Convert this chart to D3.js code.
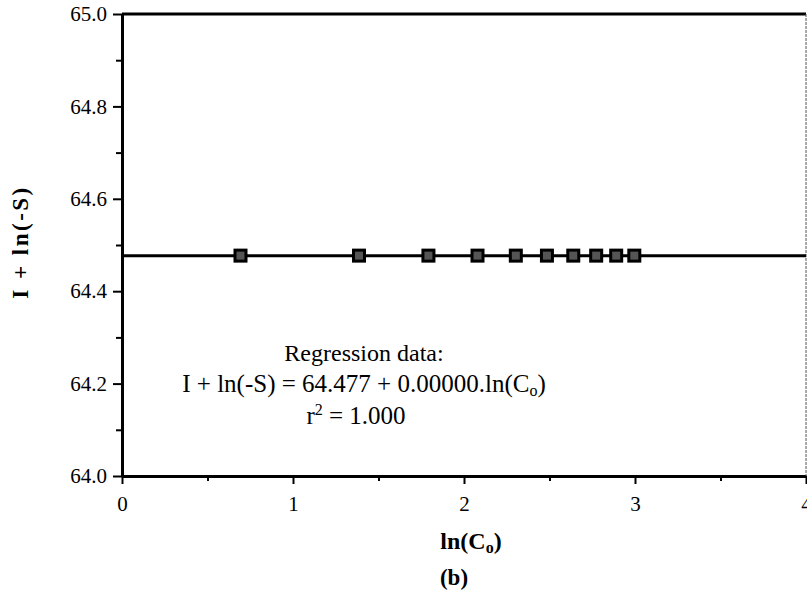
<!DOCTYPE html>
<html>
<head>
<meta charset="utf-8">
<script src="https://cdn.jsdelivr.net/npm/d3@7"></script>
<style>
  body { margin: 0; background: #fff; }
</style>
</head>
<body>
<svg id="chart" width="807" height="592" font-family="'Liberation Serif', 'Times New Roman', serif"></svg>
<script>
// data
const xValues = [0.693, 1.386, 1.792, 2.079, 2.303, 2.485, 2.639, 2.773, 2.890, 2.996];
const yValues = [64.477, 64.477, 64.477, 64.477, 64.477, 64.477, 64.477, 64.477, 64.477, 64.477];
const fitIntercept = 64.477;
const fitSlope = 0.0;
const xTicks = [0, 1, 2, 3, 4];
const yTicks = [64.0, 64.2, 64.4, 64.6, 64.8, 65.0];

const svg = d3.select("#chart");
const margin = { top: 14, right: 1, bottom: 116, left: 122 };
const width = 807 - margin.left - margin.right;
const height = 592 - margin.top - margin.bottom;
const serif = "'Liberation Serif', 'Times New Roman', serif";

const g = svg.append("g")
  .attr("transform", "translate(" + margin.left + "," + margin.top + ")");

const x = d3.scaleLinear().domain([0, 4]).range([0, width]);
const y = d3.scaleLinear().domain([64.0, 65.0]).range([height, 0]);

// minor ticks
g.append("g")
  .attr("transform", "translate(0," + height + ")")
  .call(d3.axisBottom(x).tickValues(d3.range(0.5, 4, 1)).tickSize(5).tickFormat(""))
  .call(a => a.select(".domain").remove())
  .selectAll("line").attr("stroke-width", 2);
g.append("g")
  .call(d3.axisLeft(y).tickValues(d3.range(64.1, 65, 0.2)).tickSize(6).tickFormat(""))
  .call(a => a.select(".domain").remove())
  .selectAll("line").attr("stroke-width", 2);

// x axis
const xAxis = g.append("g")
  .attr("transform", "translate(0," + height + ")")
  .call(d3.axisBottom(x).tickValues(xTicks).tickSize(8).tickSizeOuter(0).tickPadding(12).tickFormat(d3.format("d")))
  .attr("font-family", serif).attr("font-size", 21);
xAxis.select(".domain").attr("stroke-width", 3);
xAxis.selectAll("line").attr("stroke-width", 2);

// y axis
const yAxis = g.append("g")
  .call(d3.axisLeft(y).tickValues(yTicks).tickSize(9).tickSizeOuter(0).tickPadding(6).tickFormat(d3.format(".1f")))
  .attr("font-family", serif).attr("font-size", 21);
yAxis.select(".domain").attr("stroke-width", 3);
yAxis.selectAll("line").attr("stroke-width", 2);

// top and right frame
g.append("line")
  .attr("x1", 0).attr("x2", width).attr("y1", 0).attr("y2", 0)
  .attr("stroke", "#000").attr("stroke-width", 3);
g.append("line")
  .attr("x1", width).attr("x2", width).attr("y1", 0).attr("y2", height)
  .attr("stroke", "#555").attr("stroke-width", 1).attr("stroke-dasharray", "3,1");

// regression line
g.append("line")
  .attr("x1", x(0)).attr("x2", x(4))
  .attr("y1", y(fitIntercept + fitSlope * 0)).attr("y2", y(fitIntercept + fitSlope * 4))
  .attr("stroke", "#000").attr("stroke-width", 3);

// points
const pts = xValues.map((v, i) => ({ x: v, y: yValues[i] }));
g.selectAll("rect.pt")
  .data(pts).enter()
  .append("rect")
    .attr("class", "pt")
    .attr("x", d => x(d.x) - 5.5)
    .attr("y", d => y(d.y) - 5.5)
    .attr("width", 11)
    .attr("height", 11)
    .attr("fill", "#555")
    .attr("stroke", "#000")
    .attr("stroke-width", 3);

// regression annotation
const cx = 242;
g.append("text")
  .attr("x", cx).attr("y", 347)
  .attr("text-anchor", "middle")
  .attr("font-size", 24)
  .text("Regression data:");
const eq = g.append("text")
  .attr("x", cx).attr("y", 378)
  .attr("text-anchor", "middle")
  .attr("font-size", 25);
eq.append("tspan").text("I + ln(-S) = " + fitIntercept.toFixed(3) + " + " + fitSlope.toFixed(5) + ".ln(C");
eq.append("tspan").attr("dy", 4).attr("font-size", 16).text("o");
eq.append("tspan").attr("dy", -4).text(")");
const r2 = g.append("text")
  .attr("x", 234).attr("y", 410)
  .attr("text-anchor", "middle")
  .attr("font-size", 25);
r2.append("tspan").text("r");
r2.append("tspan").attr("dy", -9).attr("font-size", 16).text("2");
r2.append("tspan").attr("dy", 9).text(" = 1.000");

// axis titles
const xt = svg.append("text")
  .attr("x", 471)
  .attr("y", 549)
  .attr("text-anchor", "middle")
  .attr("font-size", 24).attr("font-weight", "bold");
xt.append("tspan").text("ln(C");
xt.append("tspan").attr("dy", 4).attr("font-size", 16).text("o");
xt.append("tspan").attr("dy", -4).text(")");

svg.append("text")
  .attr("x", 454)
  .attr("y", 585)
  .attr("text-anchor", "middle")
  .attr("font-size", 23).attr("font-weight", "bold")
  .text("(b)");

svg.append("text")
  .attr("transform", "translate(28,242) rotate(-90)")
  .attr("text-anchor", "middle")
  .attr("font-size", 23).attr("font-weight", "bold")
  .attr("letter-spacing", 2.5)
  .text("I + ln(-S)");
</script>
</body>
</html>
